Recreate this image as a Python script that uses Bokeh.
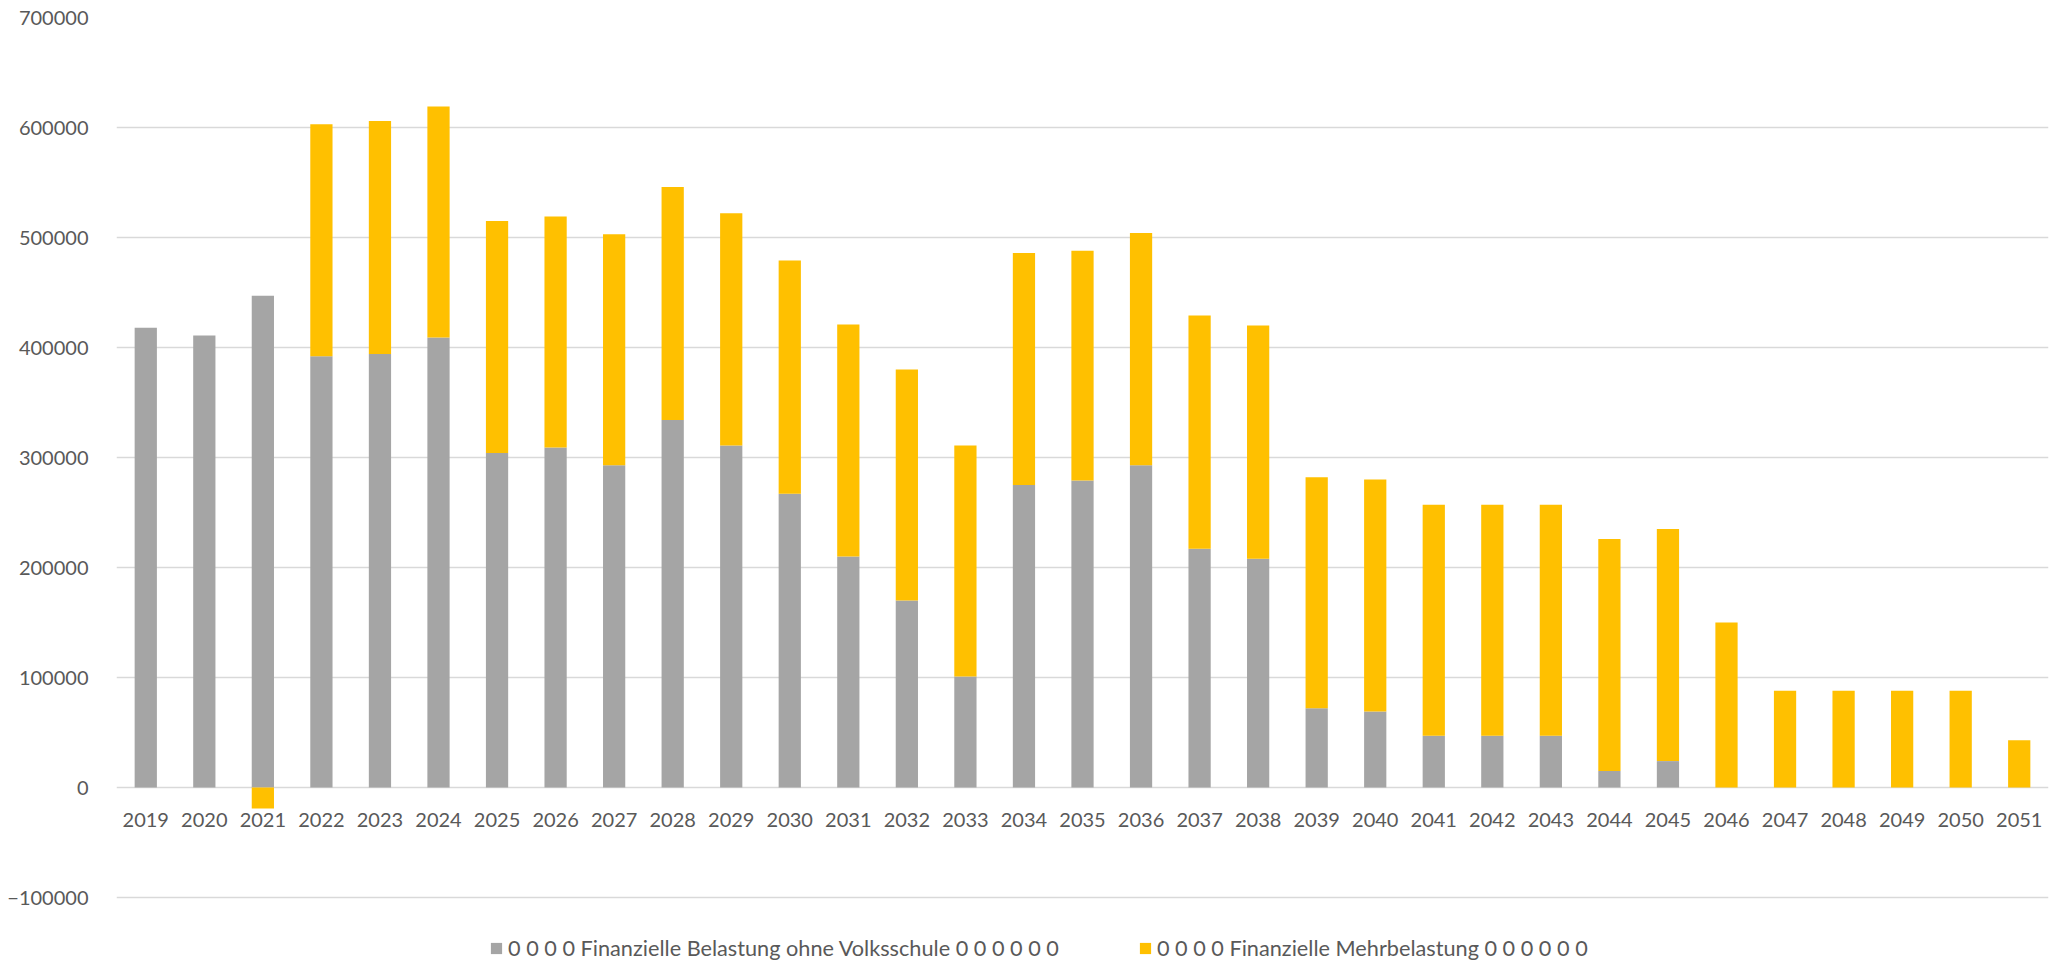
from bokeh.plotting import figure
from bokeh.models import ColumnDataSource, FixedTicker, BasicTickFormatter, Legend, LegendItem, Range1d, FactorRange
from bokeh.core.properties import value
from bokeh.embed import file_html
from bokeh.resources import INLINE

years = [str(y) for y in range(2019, 2052)]
belastung = [418000, 411000, 447000, 392000, 394000, 409000, 304000, 309000, 293000, 334000,
             311000, 267000, 210000, 170000, 101000, 275000, 279000, 293000, 217000, 208000,
             72000, 69000, 47000, 47000, 47000, 15000, 24000, 0, 0, 0, 0, 0, 0]
mehrbelastung = [0, 0, -19000, 211000, 212000, 210000, 211000, 210000, 210000, 212000,
                 211000, 212000, 211000, 210000, 210000, 211000, 209000, 211000, 212000, 212000,
                 210000, 211000, 210000, 210000, 210000, 211000, 211000, 150000, 88000, 88000,
                 88000, 88000, 43000]
y_ticks = [-100000, 0, 100000, 200000, 300000, 400000, 500000, 600000, 700000]
label_grau = "0 0 0 0 Finanzielle Belastung ohne Volksschule 0 0 0 0 0 0"
label_gelb = "0 0 0 0 Finanzielle Mehrbelastung 0 0 0 0 0 0"

GRAY = "#A5A5A5"
YELLOW = "#FFC000"
TXT = "#595959"
FONT = "Lato"

# Excel-style stacking: positives stack on the gray bar, negatives start at zero
g_bottom = [0] * len(years)
y_bottom = [b if m >= 0 else 0 for b, m in zip(belastung, mehrbelastung)]
y_top = [yb + m for yb, m in zip(y_bottom, mehrbelastung)]

src = ColumnDataSource(dict(x=years, g_bottom=g_bottom, g_top=belastung,
                            y_bottom=y_bottom, y_top=y_top, zero=[0] * len(years)))

p = figure(width=2053, height=965, x_range=FactorRange(*years, range_padding=0),
           y_range=Range1d(-160000, 700000), output_backend="svg", toolbar_location=None,
           min_border_left=116, min_border_right=5, min_border_top=17, min_border_bottom=2)

r1 = p.vbar(x="x", bottom="g_bottom", top="g_top", width=0.38, source=src,
            fill_color=GRAY, line_color=None)
r2 = p.vbar(x="x", bottom="y_bottom", top="y_top", width=0.38, source=src,
            fill_color=YELLOW, line_color=None)

# category labels sit under the zero line (Excel axis crossing at 0)
p.text(x="x", y="zero", text="x", source=src, y_offset=32,
       text_align="center", text_baseline="middle",
       text_font=value(FONT), text_font_size="20px", text_color=TXT)

p.outline_line_color = None
p.xgrid.grid_line_color = None
p.xaxis.visible = False
p.ygrid.grid_line_color = "#D9D9D9"
p.ygrid.grid_line_width = 1.5
p.yaxis.ticker = FixedTicker(ticks=y_ticks)
p.yaxis.formatter = BasicTickFormatter(use_scientific=False)
p.yaxis.axis_line_color = None
p.yaxis.major_tick_line_color = None
p.yaxis.minor_tick_line_color = None
p.yaxis.major_label_standoff = 22
p.yaxis.major_label_text_font = FONT
p.yaxis.major_label_text_font_size = "20px"
p.yaxis.major_label_text_color = TXT

legend = Legend(items=[LegendItem(label=label_grau, renderers=[r1]),
                       LegendItem(label=label_gelb, renderers=[r2])],
                orientation="horizontal", location=(373, 2),
                label_text_font=FONT, label_text_font_size="21.7px", label_text_color=TXT,
                glyph_width=14, glyph_height=14, label_standoff=5, spacing=79,
                border_line_color=None, background_fill_alpha=0, padding=0, margin=0)
p.add_layout(legend, "center")

open("out.html", "w").write(file_html(p, INLINE))
